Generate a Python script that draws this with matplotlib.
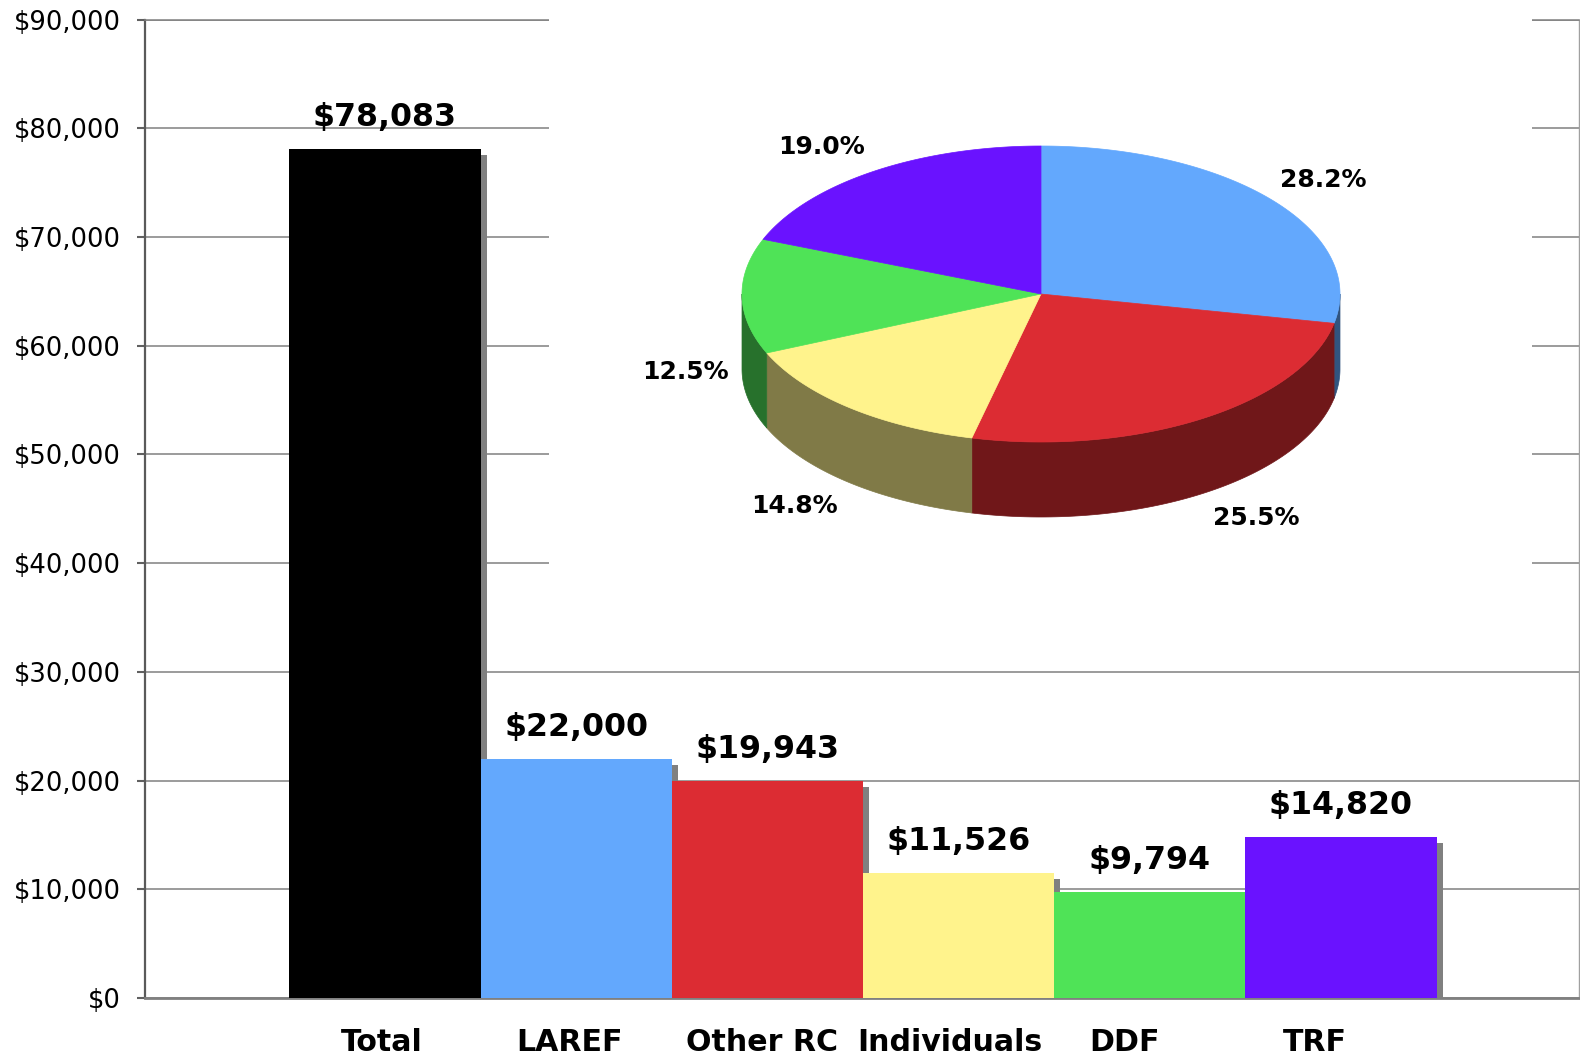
import matplotlib
matplotlib.use('Agg')
import matplotlib.pyplot as plt
import numpy as np
from matplotlib.patches import Polygon
from matplotlib import patheffects as pe
from matplotlib.ticker import MultipleLocator, FuncFormatter

categories = ['Total', 'LAREF', 'Other RC', 'Individuals', 'DDF', 'TRF']
values = [78083, 22000, 19943, 11526, 9794, 14820]
bar_colors = ['#000000', '#63A8FD', '#DC2C33', '#FFF38C', '#4FE357', '#6A12FF']
pie_labels = ['28.2%', '25.5%', '14.8%', '12.5%', '19.0%']
pie_values = values[1:]
pie_colors = bar_colors[1:]
side_colors = ['#31547F', '#701719', '#807A47', '#27712C', '#35097F']

# layout tweaks (pixels)
xlabel_dx = [-3, -7, -5, -9, -25, -26]
pie_label_dxy = [(-2, 1), (17, -4), (-10, -3), (12, 0), (-13, 4)]

W, H = 1580, 1057
fig = plt.figure(figsize=(W / 100, H / 100), dpi=100)
ax_px_w = 1579 - 145
ax = fig.add_axes([145 / W, 1 - 998 / H, ax_px_w / W, (998 - 19.5) / H])

x = np.arange(len(categories))
bars = ax.bar(x, values, width=1.0, color=bar_colors, zorder=3, linewidth=0)
for b in bars:
    b.set_path_effects([pe.SimplePatchShadow(offset=(4.3, -4.3), shadow_rgbFace='#808080', alpha=1.0),
                        pe.Normal()])
for xi, v in zip(x, values):
    ax.annotate(f'${v:,}', (xi, v), xytext=(0, 16.5), textcoords='offset points',
                ha='center', va='baseline', fontsize=22.8, fontweight='bold', color='black', zorder=5)

xmin, xmax = -1.255, 6.245
ax.set_xlim(xmin, xmax)
ax.set_ylim(0, 90000)
ax.yaxis.set_major_locator(MultipleLocator(10000))
ax.yaxis.set_major_formatter(FuncFormatter(lambda v, p: f'${v:,.0f}'))
px_per_unit = ax_px_w / (xmax - xmin)
ax.set_xticks(x + np.array(xlabel_dx) / px_per_unit)
ax.set_xticklabels(categories, fontsize=21.6, fontweight='bold')
ax.tick_params(axis='x', length=0, pad=21.5)
ax.tick_params(axis='y', labelsize=18.6, length=5.8, width=1.5, color='#606060', pad=11.5, labelcolor='black')
ax.set_axisbelow(True)
ax.yaxis.grid(True, color='#808080', linewidth=1.1)
ax.spines['left'].set_color('#5a5a5a')
ax.spines['left'].set_linewidth(1.6)
ax.spines['bottom'].set_color('#808080')
ax.spines['bottom'].set_linewidth(2)
ax.spines['top'].set_color('#808080')
ax.spines['top'].set_linewidth(1.1)
ax.spines['right'].set_color('#A0A0A0')
ax.spines['right'].set_linewidth(1.0)

# Inset 3D-looking pie
ax2 = fig.add_axes([549 / W, 1 - 660 / H, (1532 - 549) / W, 660 / H])
ax2.set_facecolor('white')
for s in ax2.spines.values():
    s.set_visible(False)
ax2.set_xticks([])
ax2.set_yticks([])
ax2.set_xlim(549, 1532)
ax2.set_ylim(660, 0)

cx, cy, rx, ry, depth = 1041, 294, 299, 148, 75
tot = float(sum(pie_values))
cum = np.concatenate([[0], np.cumsum(pie_values) / tot])
starts = 90 - 360 * cum[:-1]
ends = 90 - 360 * cum[1:]

def arc(t0, t1, n=200, dy=0):
    t = np.radians(np.linspace(t0, t1, n))
    return np.column_stack([cx + rx * np.cos(t), cy - ry * np.sin(t) + dy])

# sides
for a0, a1, sc in zip(starts, ends, side_colors):
    hi = min(a0, 0)
    lo = max(a1, -180)
    if hi > lo:
        top = arc(hi, lo)
        bot = arc(lo, hi, dy=depth)
        ax2.add_patch(Polygon(np.vstack([top, bot]), closed=True, facecolor=sc,
                              edgecolor=sc, linewidth=0.5))
# top faces
for a0, a1, c in zip(starts, ends, pie_colors):
    pts = np.vstack([[cx, cy], arc(a0, a1)])
    ax2.add_patch(Polygon(pts, closed=True, facecolor=c, edgecolor=c, linewidth=0.5))

for a0, a1, lab, (ddx, ddy) in zip(starts, ends, pie_labels, pie_label_dxy):
    m = np.radians((a0 + a1) / 2)
    lx = cx + 1.23 * rx * np.cos(m) + ddx
    ly = cy - 1.23 * ry * np.sin(m) + (depth if np.sin(m) < 0 else 0) + ddy
    ax2.text(lx, ly, lab, ha='center', va='center', fontsize=18, fontweight='bold', color='black')

fig.savefig('out.png', dpi=100, facecolor='white')
